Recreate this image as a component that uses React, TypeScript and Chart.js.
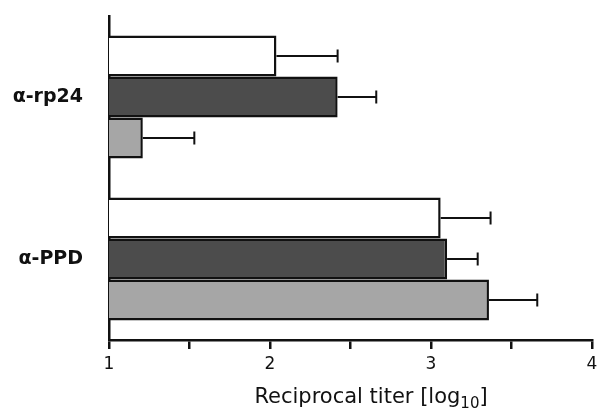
import React, { useEffect, useRef } from "react";
import { Chart, registerables } from "chart.js";

Chart.register(...registerables);

const categories = ["α-rp24", "α-PPD"];
const seriesNames = ["Group A", "Group B", "Group C"];
const seriesValues = [
  [2.04, 3.06],
  [2.42, 3.1],
  [1.21, 3.36],
];
const seriesErrors = [
  [0.38, 0.31],
  [0.24, 0.19],
  [0.32, 0.3],
];
const seriesColors = ["#ffffff", "#4c4c4c", "#a6a6a6"];
const xTickLabels = ["1", "2", "3", "4"];
const axisTitleMain = "Reciprocal titer [log";
const axisTitleSub = "10";
const axisTitleEnd = "]";

const FONT = "'DejaVu Sans', 'Liberation Sans', Arial, sans-serif";

const errorBarPlugin = {
  id: "errorBars",
  afterDatasetsDraw(chart: any) {
    const ctx = chart.ctx;
    const xScale = chart.scales.x;
    ctx.save();
    ctx.strokeStyle = "#111";
    ctx.lineWidth = 2;
    chart.data.datasets.forEach((ds: any, di: number) => {
      const meta = chart.getDatasetMeta(di);
      meta.data.forEach((bar: any, i: number) => {
        const v = ds.data[i];
        const e = seriesErrors[di][i];
        const x0 = bar.x;
        const x1 = xScale.getPixelForValue(v + e);
        const y = bar.y;
        ctx.beginPath();
        ctx.moveTo(x0, y);
        ctx.lineTo(x1, y);
        ctx.moveTo(x1, y - 6.5);
        ctx.lineTo(x1, y + 6.5);
        ctx.stroke();
      });
    });
    ctx.restore();
  },
};

const titlePlugin = {
  id: "subTitle",
  afterDraw(chart: any) {
    const ctx = chart.ctx;
    ctx.save();
    ctx.fillStyle = "#111";
    ctx.textBaseline = "alphabetic";
    ctx.textAlign = "left";
    const mainFont = `21px ${FONT}`;
    const subFont = `15px ${FONT}`;
    ctx.font = mainFont;
    const w1 = ctx.measureText(axisTitleMain).width;
    const w3 = ctx.measureText(axisTitleEnd).width;
    ctx.font = subFont;
    const w2 = ctx.measureText(axisTitleSub).width;
    const total = w1 + w2 + w3;
    const cx = 371;
    const baseline = 403;
    let x = cx - total / 2;
    ctx.font = mainFont;
    ctx.fillText(axisTitleMain, x, baseline);
    x += w1;
    ctx.font = subFont;
    ctx.fillText(axisTitleSub, x, baseline + 5);
    x += w2;
    ctx.font = mainFont;
    ctx.fillText(axisTitleEnd, x, baseline);
    ctx.restore();
  },
};

export default function App() {
  const ref = useRef<HTMLCanvasElement | null>(null);

  useEffect(() => {
    document.body.style.margin = "0";
    if (!ref.current) return;
    const chart = new Chart(ref.current, {
      type: "bar",
      data: {
        labels: categories,
        datasets: seriesValues.map((vals, i) => ({
          label: seriesNames[i],
          data: vals,
          backgroundColor: seriesColors[i],
          borderColor: "#111",
          borderWidth: 2.5,
          borderSkipped: false,
          barPercentage: 1,
          categoryPercentage: 0.76,
        })),
      },
      options: {
        indexAxis: "y",
        animation: false,
        responsive: false,
        maintainAspectRatio: false,
        layout: { padding: { top: 16, left: 0, right: 0, bottom: 0 } },
        plugins: {
          legend: { display: false },
          tooltip: { enabled: false },
          title: { display: false },
        },
        scales: {
          y: {
            type: "category",
            offset: true,
            grid: { display: false, drawTicks: false },
            border: { display: true, color: "#111", width: 2.5 },
            ticks: {
              color: "#111",
              padding: 26,
              font: { family: FONT, size: 19, weight: "bold" },
            },
            afterFit(scale: any) {
              scale.width = 109;
              scale.paddingTop = 0;
              scale.paddingBottom = 0;
            },
          },
          x: {
            type: "linear",
            min: 1,
            max: 4,
            grid: {
              drawOnChartArea: false,
              drawTicks: true,
              tickLength: 9,
              color: "#111",
              lineWidth: 2.5,
            },
            border: { display: true, color: "#111", width: 2.5 },
            ticks: {
              stepSize: 0.5,
              autoSkip: false,
              maxRotation: 0,
              color: "#111",
              padding: 5,
              font: { family: FONT, size: 17 },
              callback: (v: any) => {
                const n = Number(v);
                if (Number.isInteger(n)) {
                  const idx = n - 1;
                  return xTickLabels[idx] ?? "";
                }
                return "";
              },
            },
            afterFit(scale: any) {
              scale.height = 70;
              scale.paddingLeft = 0;
              scale.paddingRight = 5;
            },
          },
        },
      },
      plugins: [errorBarPlugin, titlePlugin],
    } as any);
    return () => chart.destroy();
  }, []);

  return (
    <div style={{ position: "absolute", left: 0, top: 0, width: 597, height: 410 }}>
      <canvas ref={ref} width={597} height={410} style={{ width: 597, height: 410 }} />
    </div>
  );
}
